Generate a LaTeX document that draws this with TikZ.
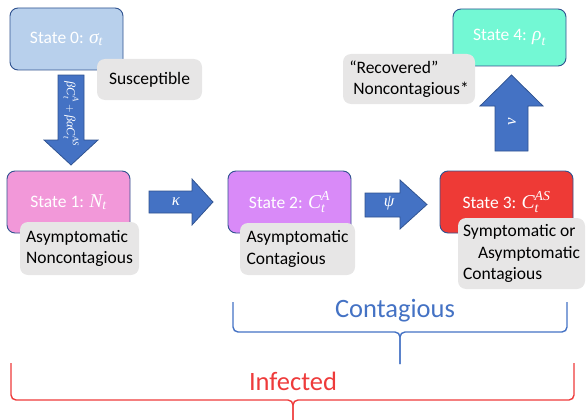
\RequirePackage{fix-cm}
\documentclass[tikz,border=0pt]{standalone}
\usepackage{amsmath}
\usepackage{fontspec}
\setmainfont{Carlito}
\newfontfamily\mvfont{Liberation Serif}[ItalicFont=* Italic, Scale=1.12]
\newcommand\mv[1]{\text{\mvfont\itshape #1}}
\definecolor{stborder}{HTML}{2F528F}
\definecolor{s0fill}{HTML}{B8D0EC}
\definecolor{s1fill}{HTML}{F298D9}
\definecolor{s2fill}{HTML}{D98AF8}
\definecolor{s3fill}{HTML}{EE3A36}
\definecolor{s4fill}{HTML}{73F8D4}
\definecolor{taggray}{HTML}{E7E6E6}
\definecolor{arrowblue}{HTML}{4472C4}
\definecolor{contcol}{HTML}{4472C4}
\definecolor{infcol}{HTML}{EE3B3B}
\begin{document}
\begin{tikzpicture}[x=1pt,y=-1pt,
  statebox/.style={draw=stborder, line width=0.9pt, rounded corners=8pt,
    minimum height=62pt, text=white, inner sep=0pt,
    font=\fontsize{17.5}{21}\selectfont},
  tagbox/.style={fill=taggray, rounded corners=8pt, inner sep=0pt,
    align=left, text=black, font=\fontsize{17.5}{21.5}\selectfont},
  blockarrow/.style={fill=arrowblue, draw=stborder, line width=0.75pt},
  arrowlabel/.style={text=white, inner sep=0pt, font=\fontsize{15}{17}\selectfont},
  brace/.style={line width=1.4pt, rounded corners=5pt},
  bigtext/.style={inner sep=0pt, font=\fontsize{26.5}{30}\selectfont}]
\useasboundingbox (0,0) rectangle (586,420);

% states
\node[statebox, fill=s0fill, minimum width=113pt] (s0) at (66.5,39) {State 0: $\mv{σ}_{\mv{t}}$};
\node[statebox, fill=s1fill, minimum width=123pt] (s1) at (68.5,202) {State 1: $\mv{N}_{\mv{t}}$};
\node[statebox, fill=s2fill, minimum width=123pt] (s2) at (289.5,202) {State 2: $\mv{C}_{\mv{t}}^{\mv{A}}$};
\node[statebox, fill=s3fill, minimum width=133pt] (s3) at (506.5,202) {State 3: $\mv{C}_{\mv{t}}^{\mv{AS}}$};
\node[statebox, fill=s4fill, minimum width=113pt, minimum height=57pt] (s4) at (509.5,37.5) {State 4: $\mv{ρ}_{\mv{t}}$};

% block arrows
\draw[blockarrow] (58,75) -- (84,75) -- (84,140) -- (98,140) -- (71,165) -- (44,140) -- (58,140) -- cycle;
\node[arrowlabel, rotate=-90, font=\fontsize{11}{12}\selectfont] (lbeta) at (71,114) {$\mv{βC}_{\mv{t}}^{\mv{A}}+\mv{βαC}_{\mv{t}}^{\mv{AS}}$};
\draw[blockarrow] (149,191) -- (192,191) -- (192,179) -- (213,202) -- (192,225) -- (192,213) -- (149,213) -- cycle;
\node[arrowlabel] (lkappa) at (176,202) {$\mv{κ}$};
\draw[blockarrow] (365,193) -- (400,193) -- (400,180) -- (427,204.5) -- (400,229) -- (400,217) -- (365,217) -- cycle;
\node[arrowlabel] (lpsi) at (389,203) {$\mv{ψ}$};
\draw[blockarrow] (495,151) -- (495,106) -- (480,106) -- (511.5,75) -- (543,106) -- (528,106) -- (528,151) -- cycle;
\node[arrowlabel, rotate=90] (lnu) at (512,122) {$\mv{ν}$};

% tags
\node[tagbox, minimum width=105pt, minimum height=41pt] (t0) at (149.5,79.5) {Susceptible};
\node[tagbox, minimum width=119pt, minimum height=53pt] (t1) at (79.5,248.5) {Asymptomatic\\Noncontagious};
\node[tagbox, minimum width=115pt, minimum height=52pt] (t2) at (297.5,249) {Asymptomatic\\Contagious};
\node[tagbox, minimum width=127pt, minimum height=71pt] (t3) at (521.5,253.5) {Symptomatic or\\\hspace*{15pt}Asymptomatic\\Contagious};
\node[tagbox, minimum width=132pt, minimum height=50pt] (t4) at (409,79) {“Recovered”\\\hspace*{4pt}Noncontagious*};

% braces
\draw[brace, contcol] (233,302) -- (233,332) -- (400,332) -- (400,364);
\draw[brace, contcol] (567,302) -- (567,332) -- (400,332) -- (400,364);
\node[bigtext, text=contcol] (lcont) at (395,311) {Contagious};
\draw[brace, infcol] (11,363) -- (11,400) -- (293,400) -- (293,421);
\draw[brace, infcol] (574,363) -- (574,400) -- (293,400) -- (293,421);
\node[bigtext, text=infcol] (linf) at (293,381) {Infected};
\end{tikzpicture}
\end{document}
